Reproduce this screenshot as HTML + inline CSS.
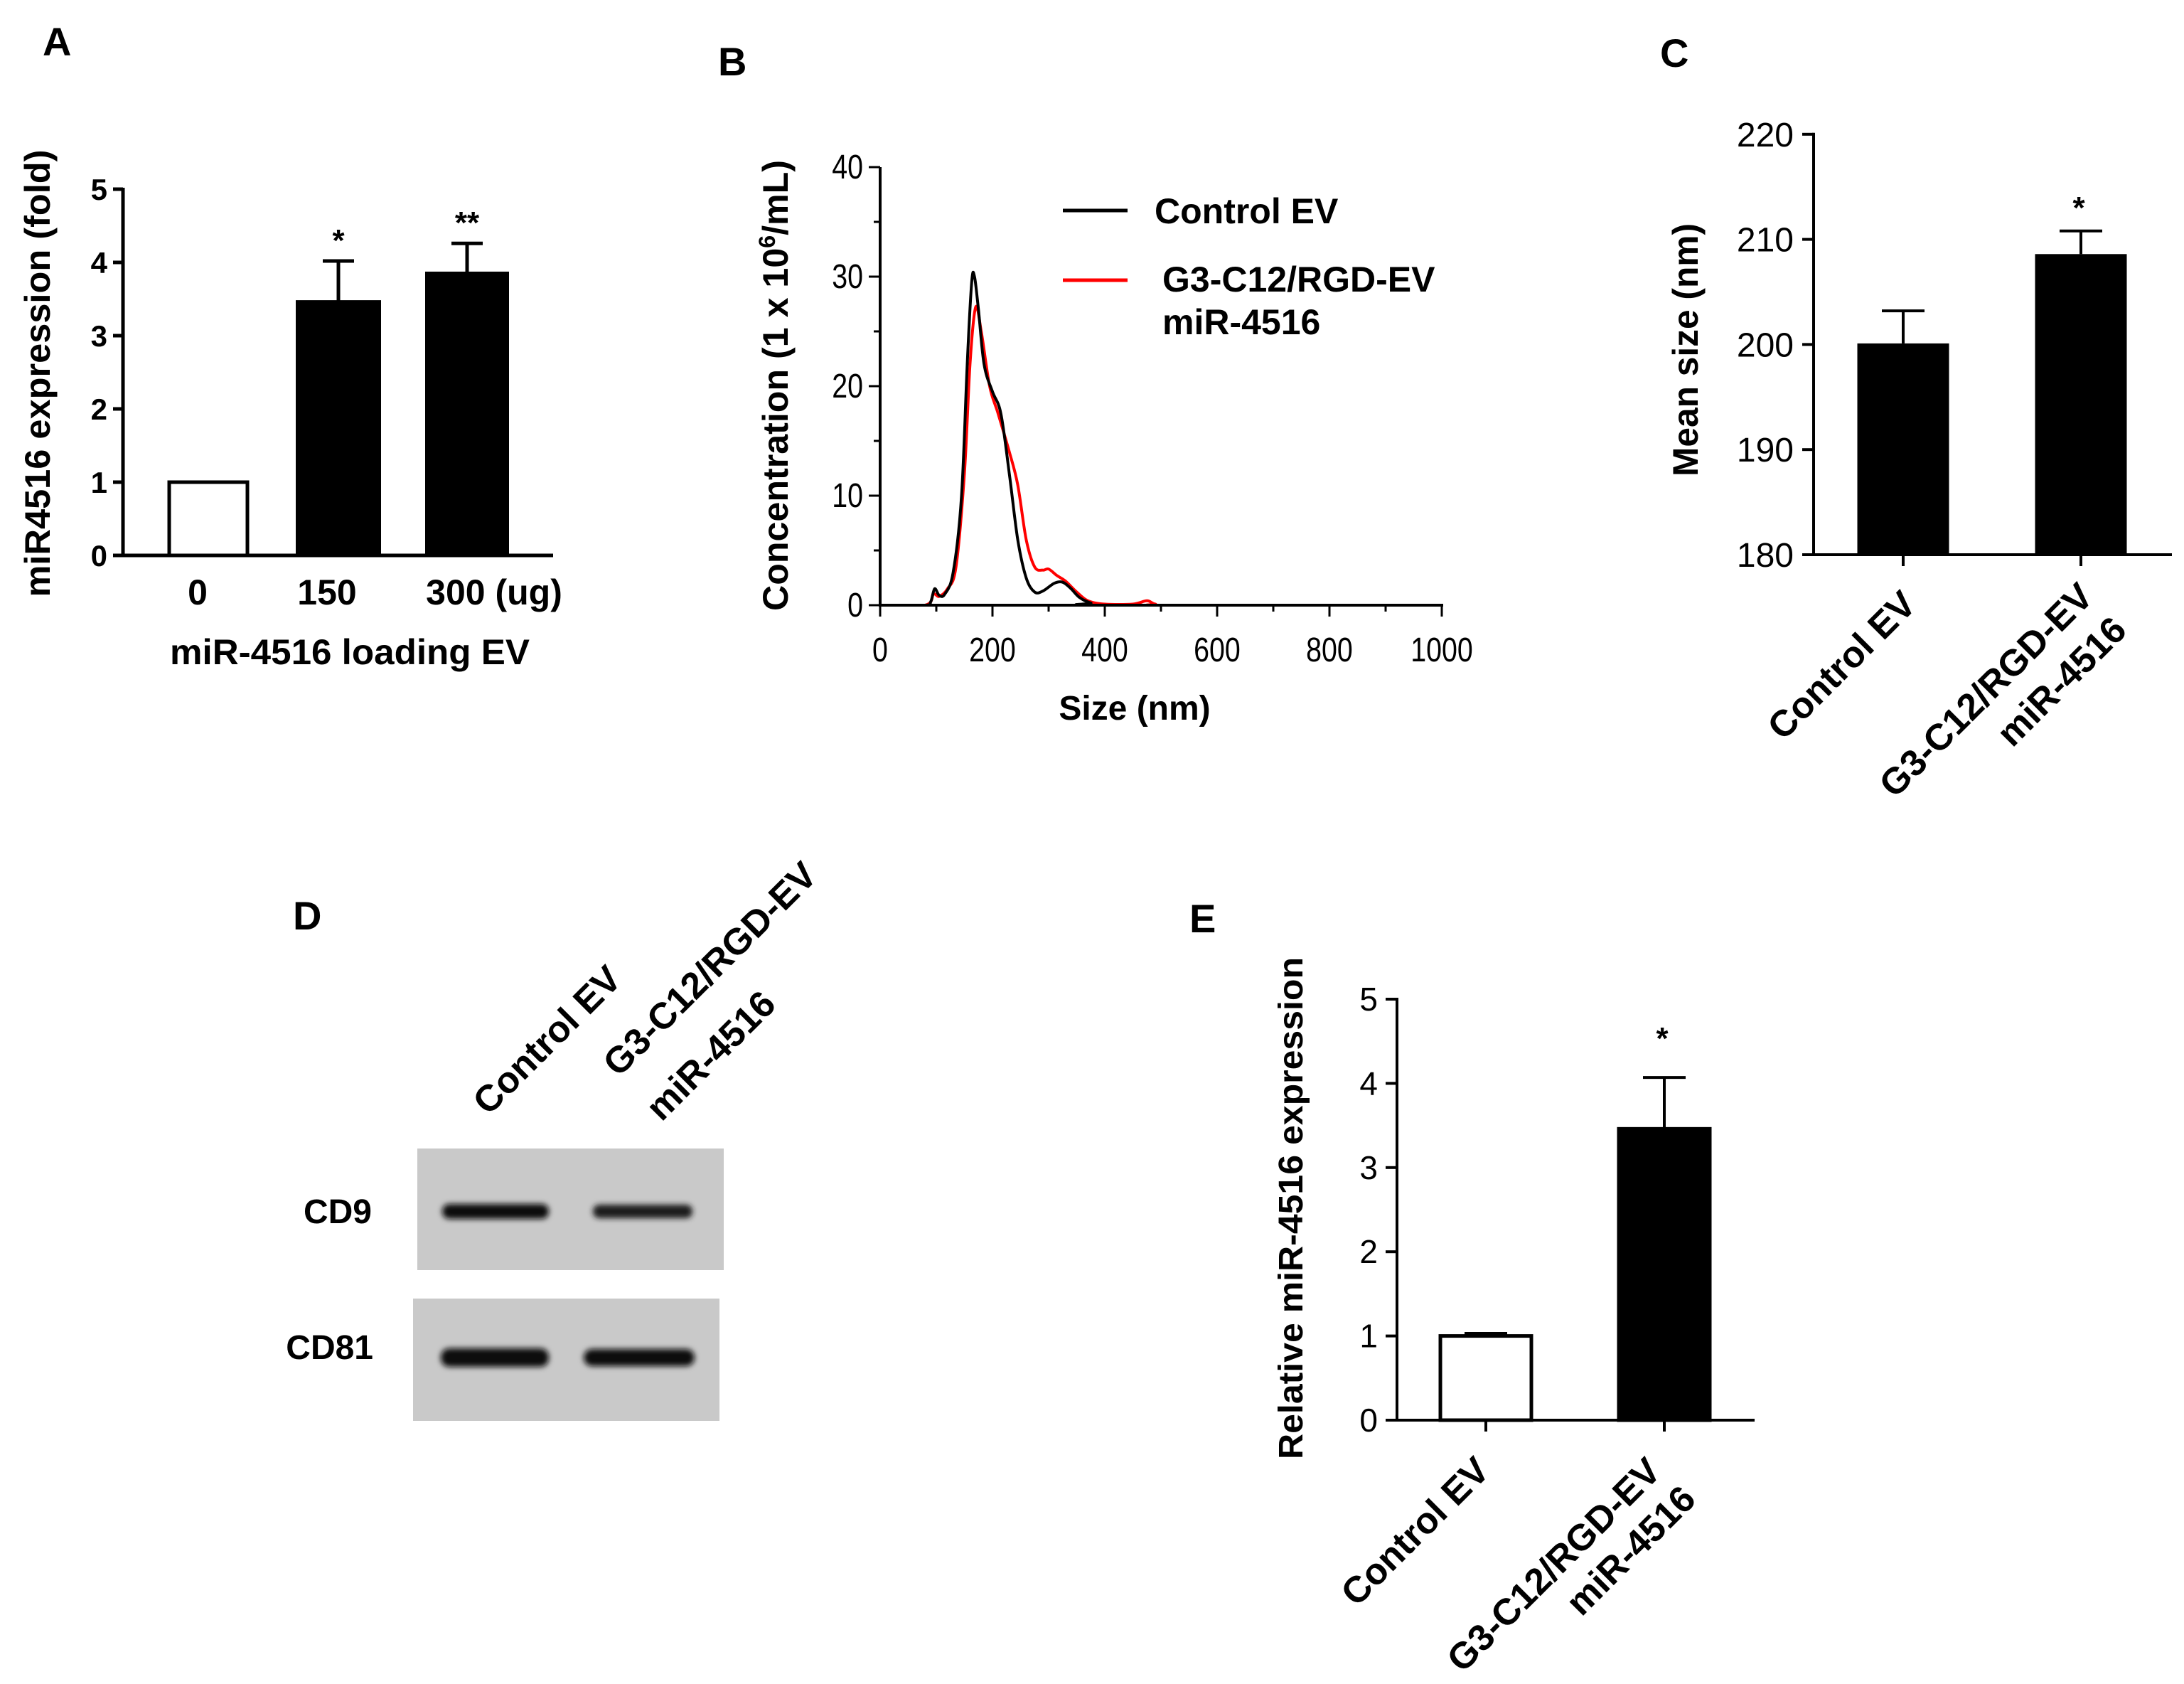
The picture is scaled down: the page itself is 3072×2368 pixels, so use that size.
<!DOCTYPE html>
<html><head><meta charset="utf-8"><style>
html,body{margin:0;padding:0;background:#fff;}
svg{display:block;font-family:"Liberation Sans",Arial,sans-serif;}
</style></head><body>
<svg id="fig" width="3072" height="2368" viewBox="0 0 3072 2368" xmlns="http://www.w3.org/2000/svg">
<defs>
<filter id="blur" x="-20%" y="-100%" width="140%" height="300%"><feGaussianBlur stdDeviation="4"/></filter>
</defs>
<text x="60" y="78" font-size="56" font-weight="bold">A</text>
<text x="1010" y="106" font-size="56" font-weight="bold">B</text>
<text x="2335" y="94" font-size="56" font-weight="bold">C</text>
<text x="412" y="1307" font-size="56" font-weight="bold">D</text>
<text x="1673" y="1311" font-size="56" font-weight="bold">E</text>

<text transform="translate(70,525) rotate(-90)" text-anchor="middle" font-size="50" font-weight="bold" textLength="629" lengthAdjust="spacingAndGlyphs">miR4516 expression (fold)</text>
<text x="492" y="934" text-anchor="middle" font-size="50" font-weight="bold" textLength="506" lengthAdjust="spacingAndGlyphs">miR-4516 loading EV</text>

<text transform="translate(1108,542) rotate(-90)" text-anchor="middle" font-size="50" font-weight="bold" textLength="634" lengthAdjust="spacingAndGlyphs">Concentration (1 x 10<tspan baseline-shift="super" font-size="32">6</tspan>/mL)</text>
<text x="1596" y="1012" text-anchor="middle" font-size="48" font-weight="bold">Size (nm)</text>
<line x1="1495" y1="296" x2="1586" y2="296" stroke="#000" stroke-width="5"/>
<text x="1624" y="314" font-size="50" font-weight="bold">Control EV</text>
<line x1="1495" y1="394" x2="1586" y2="394" stroke="#f00" stroke-width="5"/>
<text x="1635" y="410" font-size="50" font-weight="bold">G3-C12/RGD-EV</text>
<text x="1635" y="470" font-size="50" font-weight="bold">miR-4516</text>

<text transform="translate(2388,492) rotate(-90)" text-anchor="middle" font-size="50" font-weight="bold" textLength="356" lengthAdjust="spacingAndGlyphs">Mean size (nm)</text>

<text transform="translate(1832,1699) rotate(-90)" text-anchor="middle" font-size="48" font-weight="bold" textLength="706" lengthAdjust="spacingAndGlyphs">Relative miR-4516 expression</text>

<g>
<text transform="translate(877,1380) rotate(-45)" text-anchor="end" font-size="52" font-weight="bold">Control EV</text>
<text transform="translate(1152,1234) rotate(-45)" text-anchor="end" font-size="52" font-weight="bold">G3-C12/RGD-EV</text>
<text transform="translate(1094,1415) rotate(-45)" text-anchor="end" font-size="52" font-weight="bold">miR-4516</text>
<rect x="587" y="1615" width="431" height="171" fill="#c9c9c9"/>
<rect x="581" y="1826" width="431" height="172" fill="#c9c9c9"/>
<rect x="622" y="1693" width="150" height="21" rx="10" fill="#111" filter="url(#blur)"/>
<rect x="834" y="1694" width="140" height="19" rx="9" fill="#1a1a1a" filter="url(#blur)"/>
<rect x="620" y="1896" width="152" height="26" rx="12" fill="#0a0a0a" filter="url(#blur)"/>
<rect x="821" y="1897" width="156" height="24" rx="12" fill="#111" filter="url(#blur)"/>
<text x="523" y="1720" text-anchor="end" font-size="48" font-weight="bold">CD9</text>
<text x="525" y="1911" text-anchor="end" font-size="48" font-weight="bold">CD81</text>
</g>
</svg>
<script>
const aCategories = ["0", "150", "300 (ug)"];
const aValues = [1.0, 3.46, 3.85];
const aErrors = [0, 0.56, 0.41];
const aStars = ["", "*", "**"];
const aTicks = [0, 1, 2, 3, 4, 5];
const bXTicks = [0, 200, 400, 600, 800, 1000];
const bYTicks = [0, 10, 20, 30, 40];
const bControlX = [0, 80, 90, 97, 105, 115, 130, 145, 155, 163, 168, 175, 185, 200, 215, 230, 245, 260, 275, 290, 310, 325, 340, 355, 375, 400, 1000];
const bControlY = [0, 0, 0.3, 1.5, 0.9, 1.0, 3.0, 10, 22, 29.5, 30, 27, 22, 19.5, 17.5, 12, 6, 2.5, 1.2, 1.3, 2.0, 2.1, 1.5, 0.7, 0.2, 0, 0];
const bG3X = [0, 80, 95, 105, 120, 135, 150, 160, 170, 180, 195, 210, 230, 245, 260, 275, 290, 300, 315, 330, 350, 370, 400, 450, 475, 490, 520, 1000];
const bG3Y = [0, 0, 1.0, 0.8, 1.5, 3.5, 12, 22, 27.2, 25, 20, 17.5, 14, 11, 6, 3.5, 3.2, 3.3, 2.7, 2.2, 1.2, 0.4, 0.1, 0.1, 0.4, 0.1, 0, 0];
const cValues = [200.1, 208.6];
const cErrors = [3.1, 2.2];
const cStars = ["", "*"];
const cTicks = [180, 190, 200, 210, 220];
const eValues = [1.0, 3.46];
const eErrors = [0.03, 0.61];
const eStars = ["", "*"];
const eTicks = [0, 1, 2, 3, 4, 5];

const NS = "http://www.w3.org/2000/svg";
const svg = document.getElementById("fig");
function mk(tag, attrs, parent) {
  const e = document.createElementNS(NS, tag);
  for (const k in attrs) e.setAttribute(k, attrs[k]);
  (parent || svg).appendChild(e);
  return e;
}
function line(x1, y1, x2, y2, w, name, col) {
  const l = mk("line", {x1: x1, y1: y1, x2: x2, y2: y2, stroke: col || "#000", "stroke-width": w});
  
  
  return l;
}
function txt(x, y, s, size, weight, anchor, name) {
  const t = mk("text", {x: x, y: y, "font-size": size, "font-weight": weight, "text-anchor": anchor});
  t.textContent = s;
  
  
  return t;
}

(function () {
  const y = v => 781 - v * 103;
  const xL = 173, xR = 778;
  const centers = [293, 476, 657], bw = [110, 115, 113];
  line(xL, y(5) - 2, xL, y(0) + 2, 5, "a-y-axis");
  line(160, y(0), xR, y(0), 5, "a-x-axis");
  aTicks.forEach(t => {
    line(xL - 14, y(t), xL, y(t), 5, "a-y-tick");
    txt(xL - 22, y(t) + 15, String(t), 42, "bold", "end", "a-y-tick-label");
  });
  aValues.forEach((v, i) => {
    const cx = centers[i], w = bw[i];
    if (aErrors[i] > 0) {
      line(cx, y(v), cx, y(v + aErrors[i]), 5, "a-error-bar");
      line(cx - 22, y(v + aErrors[i]), cx + 22, y(v + aErrors[i]), 5, "a-error-cap");
    }
    const r = mk("rect", {x: cx - w / 2, y: y(v), width: w, height: y(0) - y(v), fill: i === 0 ? "#fff" : "#000", stroke: "#000", "stroke-width": 5});
    
    
    if (aStars[i]) txt(cx, y(v + aErrors[i]) - 14, aStars[i], 44, "bold", "middle", "a-significance");
  });
  const lx = [278, 460, 695];
  aCategories.forEach((c, i) => txt(lx[i], 850, c, 50, "bold", "middle", "a-x-tick-label"));
})();

(function () {
  const x = v => 1238 + v * 0.79;
  const y = v => 851 - v * 15.4;
  line(1238, y(40), 1238, y(0) + 2, 4, "b-y-axis");
  line(1236, y(0), x(1000) + 2, y(0), 4, "b-x-axis");
  for (let v = 0; v <= 40; v += 5) line(1238 - (v % 10 === 0 ? 16 : 9), y(v), 1238, y(v), 3, "b-y-tick");
  for (let v = 0; v <= 1000; v += 100) line(x(v), y(0), x(v), y(0) + (v % 200 === 0 ? 16 : 9), 3, "b-x-tick");
  bYTicks.forEach(v => {
    const t = txt(1214, y(v) + 16, String(v), 48, "normal", "end", "b-y-tick-label");
    t.setAttribute("transform", "translate(1214," + (y(v) + 16) + ") scale(0.82,1) translate(-1214," + (-(y(v) + 16)) + ")");
  });
  bXTicks.forEach(v => {
    const t = txt(x(v), 930, String(v), 48, "normal", "middle", "b-x-tick-label");
    t.setAttribute("transform", "translate(" + x(v) + ",930) scale(0.82,1) translate(" + (-x(v)) + ",-930)");
  });
  function curve(xs, ys, col, name) {
    const P = xs.map((v, i) => [x(v), y(ys[i])]);
    let d = "M" + P[0][0].toFixed(1) + "," + P[0][1].toFixed(1);
    for (let i = 0; i < P.length - 1; i++) {
      const p0 = P[Math.max(0, i - 1)], p1 = P[i], p2 = P[i + 1], p3 = P[Math.min(P.length - 1, i + 2)];
      const c1 = [p1[0] + (p2[0] - p0[0]) / 6, Math.min(y(0), p1[1] + (p2[1] - p0[1]) / 6)];
      const c2 = [p2[0] - (p3[0] - p1[0]) / 6, Math.min(y(0), p2[1] - (p3[1] - p1[1]) / 6)];
      d += "C" + c1[0].toFixed(1) + "," + c1[1].toFixed(1) + " " + c2[0].toFixed(1) + "," + c2[1].toFixed(1) + " " + p2[0].toFixed(1) + "," + p2[1].toFixed(1);
    }
    const p = mk("path", {d: d, fill: "none", stroke: col, "stroke-width": 4, "stroke-linejoin": "round"});
    
    
  }
  curve(bG3X, bG3Y, "#f00", "g3-c12-rgd-ev-curve");
  curve(bControlX, bControlY, "#000", "control-ev-curve");
})();

(function () {
  const y = v => 780 - (v - 180) * 14.78;
  const xL = 2551, xR = 3055;
  const centers = [2677, 2927], w = 129;
  line(xL, y(220) - 2, xL, y(180) + 2, 4, "c-y-axis");
  line(xL - 2, y(180), xR, y(180), 4, "c-x-axis");
  cTicks.forEach(t => {
    line(xL - 16, y(t), xL, y(t), 4, "c-y-tick");
    txt(2523, y(t) + 17, String(t), 48, "normal", "end", "c-y-tick-label");
  });
  cValues.forEach((v, i) => {
    const cx = centers[i];
    line(cx, y(v), cx, y(v + cErrors[i]), 4, "c-error-bar");
    line(cx - 30, y(v + cErrors[i]), cx + 30, y(v + cErrors[i]), 4, "c-error-cap");
    line(cx, y(180), cx, y(180) + 16, 4, "c-x-tick");
    const r = mk("rect", {x: cx - w / 2, y: y(v), width: w, height: y(180) - y(v), fill: "#000"});
    
    
    if (cStars[i]) txt(cx - 3, y(v + cErrors[i]) - 18, cStars[i], 44, "bold", "middle", "c-significance");
  });
  const lbl = [["Control EV", 2698, 853], ["G3-C12/RGD-EV", 2947, 842], ["miR-4516", 2994, 889]];
  lbl.forEach(l => {
    const t = txt(0, 0, l[0], 52, "bold", "end", "c-x-tick-label");
    t.setAttribute("transform", "translate(" + l[1] + "," + l[2] + ") rotate(-45)");
  });
})();

(function () {
  const y = v => 1997 - v * 118.4;
  const xL = 1965, xR = 2468;
  const centers = [2090, 2341], w = 128;
  line(xL, y(5) - 2, xL, y(0) + 2, 4, "e-y-axis");
  line(xL - 2, y(0), xR, y(0), 4, "e-x-axis");
  eTicks.forEach(t => {
    line(xL - 16, y(t), xL, y(t), 4, "e-y-tick");
    txt(1938, y(t) + 16, String(t), 46, "normal", "end", "e-y-tick-label");
  });
  eValues.forEach((v, i) => {
    const cx = centers[i];
    line(cx, y(v), cx, y(v + eErrors[i]), 4, "e-error-bar");
    line(cx - 30, y(v + eErrors[i]), cx + 30, y(v + eErrors[i]), 4, "e-error-cap");
    line(cx, y(0), cx, y(0) + 16, 4, "e-x-tick");
    const r = mk("rect", {x: cx - w / 2, y: y(v), width: w, height: y(0) - y(v), fill: i === 0 ? "#fff" : "#000", stroke: "#000", "stroke-width": 5});
    
    
    if (eStars[i]) txt(cx - 3, y(v + eErrors[i]) - 40, eStars[i], 44, "bold", "middle", "e-significance");
  });
  const lbl = [["Control EV", 2098, 2071], ["G3-C12/RGD-EV", 2339, 2072], ["miR-4516", 2388, 2111]];
  lbl.forEach(l => {
    const t = txt(0, 0, l[0], 52, "bold", "end", "e-x-tick-label");
    t.setAttribute("transform", "translate(" + l[1] + "," + l[2] + ") rotate(-45)");
  });
})();
</script>
</body></html>
